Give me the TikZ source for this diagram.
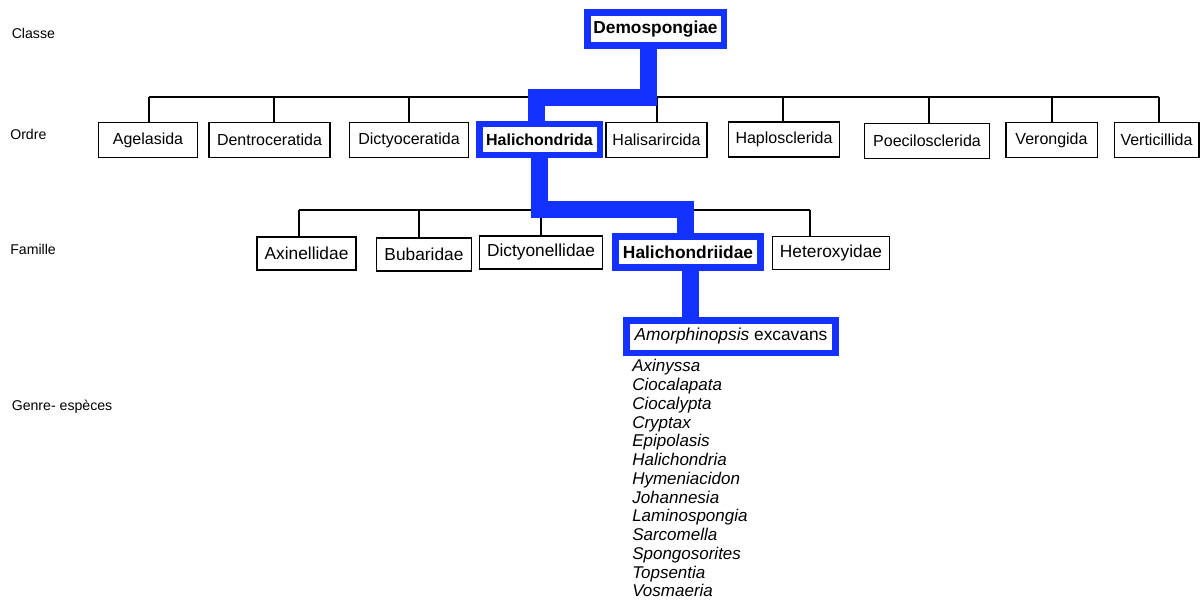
\documentclass[tikz,border=0pt]{standalone}
\usepackage{fontspec}
\setmainfont{Liberation Sans}
\definecolor{hlblue}{RGB}{20,50,255}
\begin{document}
\begin{tikzpicture}[x=0.75pt,y=-0.75pt,
  ordbox/.style={draw=black,line width=1.125pt,fill=white,inner sep=0pt,
    minimum height=25.9pt,font=\fontsize{12}{14}\selectfont},
  fambox/.style={draw=black,line width=1.125pt,fill=white,inner sep=0pt,
    minimum height=24.4pt,font=\fontsize{13}{15}\selectfont},
  bluebox/.style={draw=hlblue,line width=4.9pt,fill=white,inner sep=0pt},
  bluelink/.style={draw=hlblue,line width=12.75pt,line cap=butt,line join=miter},
  treeline/.style={draw=black,line width=1.125pt},
  rowlabel/.style={anchor=base west,inner sep=0pt,font=\fontsize{10.6}{12}\selectfont},
  species/.style={anchor=base west,inner sep=0pt,font=\fontsize{12.75}{14}\selectfont\itshape}]
\useasboundingbox (0,0) rectangle (1201,599);

% row labels
\node[rowlabel] (lclasse) at (11.5,38.3) {Classe};
\node[rowlabel] (lordre) at (10,140) {Ordre};
\node[rowlabel] (lfamille) at (10,254) {Famille};
\node[rowlabel] (lgenre) at (11.5,410.7) {Genre- espèces};

% class
\node[bluebox,minimum width=102.4pt,minimum height=25.1pt,font=\fontsize{13}{15}\selectfont\bfseries] (demo) at (655.5,29) {Demospongiae};

% orders
\node[ordbox,minimum width=73.9pt] (age) at (148,140) {Agelasida};
\node[ordbox,minimum width=91.1pt] (den) at (269.5,140) {Dentroceratida};
\node[ordbox,minimum width=88.9pt] (dic) at (409,140) {Dictyoceratida};
\node[bluebox,minimum width=90.4pt,minimum height=22.9pt,font=\fontsize{12}{14}\selectfont\bfseries] (hal) at (539.5,139.5) {Halichondrida};
\node[ordbox,minimum width=76.1pt] (his) at (656.5,140) {Halisarircida};
\node[ordbox,minimum width=82.9pt] (hap) at (784,139.5) {Haplosclerida};
\node[ordbox,minimum width=93.4pt] (poe) at (927,141) {Poecilosclerida};
\node[ordbox,minimum width=68.6pt] (ver) at (1051.5,140) {Verongida};
\node[ordbox,minimum width=63.4pt] (vet) at (1156.5,140) {Verticillida};

% families
\node[fambox,minimum width=74.6pt] (axi) at (306.5,253.5) {Axinellidae};
\node[fambox,minimum width=70.9pt] (bub) at (424,254.5) {Bubaridae};
\node[fambox,minimum width=91.9pt] (dcn) at (541,252.5) {Dictyonellidae};
\node[bluebox,minimum width=109.1pt,minimum height=23.6pt,font=\fontsize{13}{15}\selectfont\bfseries] (hii) at (688,252) {Halichondriidae};
\node[fambox,minimum width=87.4pt,minimum height=25.1pt] (het) at (831,253) {Heteroxyidae};

% genus-species
\node[bluebox,minimum width=157.1pt,minimum height=24.4pt,font=\fontsize{13}{15}\selectfont] (amo) at (731,336.5) {\textit{Amorphinopsis} excavans};

\foreach \n [count=\i] in {Axinyssa,Ciocalapata,Ciocalypta,Cryptax,Epipolasis,Halichondria,Hymeniacidon,Johannesia,Laminospongia,Sarcomella,Spongosorites,Topsentia,Vosmaeria}
  \node[species] (sp\i) at (632,{371.7+18.77*(\i-1)}) {\n};

% order bar
\coordinate (obl) at (149,97);
\coordinate (obr) at (1159,97);
\draw[treeline] (obl) -- (obr);
\draw[treeline] (149,97) -- (149,97 |- age.north);
\draw[treeline] (274,97) -- (274,97 |- den.north);
\draw[treeline] (409,97) -- (409,97 |- dic.north);
\draw[treeline] (657,97) -- (657,97 |- his.north);
\draw[treeline] (783,97) -- (783,97 |- hap.north);
\draw[treeline] (929,97) -- (929,97 |- poe.north);
\draw[treeline] (1052,97) -- (1052,97 |- ver.north);
\draw[treeline] (1159,97) -- (1159,97 |- vet.north);

% family bar
\coordinate (fbl) at (299,210);
\coordinate (fbr) at (810,210);
\draw[treeline] (fbl) -- (fbr);
\draw[treeline] (299,210) -- (299,210 |- axi.north);
\draw[treeline] (419,210) -- (419,210 |- bub.north);
\draw[treeline] (541,210) -- (541,210 |- dcn.north);
\draw[treeline] (810,210) -- (810,210 |- het.north);

% highlighted path
\draw[bluelink] (648,0 |- demo.south) -- (648,97.5) -- (536,97.5) -- (536,0 |- hal.north);
\draw[bluelink] (hal.south) -- (539.5,209.5) -- (685.5,209.5) -- (685.5,0 |- hii.north);
\draw[bluelink] (690,0 |- hii.south) -- (690,0 |- amo.north);
\end{tikzpicture}
\end{document}
